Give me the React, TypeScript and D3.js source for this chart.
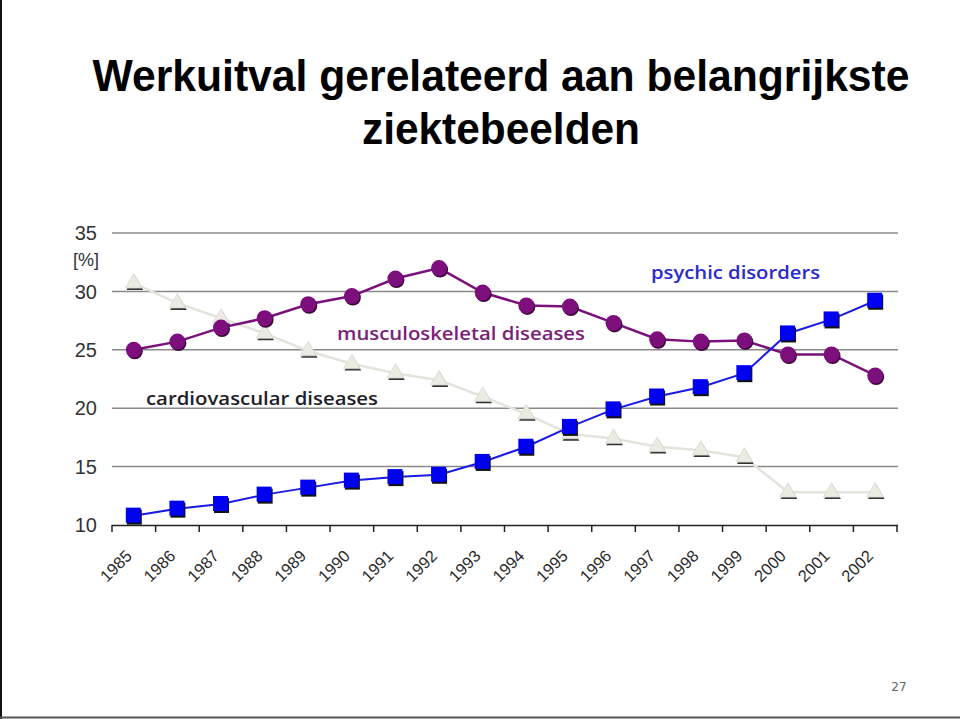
import React from "react";
import * as d3 from "d3";

const years = ["1985", "1986", "1987", "1988", "1989", "1990", "1991", "1992", "1993",
  "1994", "1995", "1996", "1997", "1998", "1999", "2000", "2001", "2002"];

const psychic = [10.8, 11.4, 11.8, 12.6, 13.2, 13.8, 14.1, 14.3, 15.4,
  16.7, 18.4, 19.9, 21.0, 21.8, 23.0, 26.4, 27.6, 29.2];
const musculo = [25.0, 25.7, 26.9, 27.7, 28.9, 29.6, 31.1, 32.0, 29.9,
  28.8, 28.7, 27.3, 25.9, 25.7, 25.8, 24.6, 24.6, 22.8];
const cardio = [30.7, 29.0, 27.7, 26.4, 24.9, 23.8, 23.0, 22.4, 21.0,
  19.5, 17.8, 17.4, 16.7, 16.4, 15.8, 12.8, 12.8, 12.8];

const yTicks = [10, 15, 20, 25, 30, 35];

const W = 960;
const H = 719;

const App = () => {
  const x = d3.scaleBand<string>().domain(years).range([112, 897]);
  const y = d3.scaleLinear().domain([10, 35]).range([525, 233]);
  const cx = (i: number) => (x(years[i]) as number) + x.bandwidth() / 2;

  const line = d3
    .line<number>()
    .x((_, i) => cx(i))
    .y((v) => y(v));

  const tri = d3.symbol().type(d3.symbolTriangle).size(120);

  return (
    <svg
      width={W}
      height={H}
      style={{ position: "absolute", left: 0, top: 0, background: "#fff" }}
    >
      {/* page frame */}
      <line x1={1} y1={0} x2={1} y2={H} stroke="#111" strokeWidth={2} />
      <line x1={0} y1={717.5} x2={W} y2={717.5} stroke="#555" strokeWidth={2} />

      {/* title */}
      <g fontFamily="Liberation Sans Narrow, Arial Narrow, Liberation Sans, sans-serif" fontWeight="bold" fontSize={45} fill="#000">
        <text x={501} y={91} textAnchor="middle" textLength={817} lengthAdjust="spacingAndGlyphs">
          Werkuitval gerelateerd aan belangrijkste
        </text>
        <text x={501} y={144} textAnchor="middle" textLength={278} lengthAdjust="spacingAndGlyphs">
          ziektebeelden
        </text>
      </g>

      {/* grid */}
      {yTicks.slice(1).map((t) => (
        <line key={t} x1={112} x2={898} y1={y(t)} y2={y(t)} stroke="#8a8a8a" strokeWidth={1.5} />
      ))}

      {/* y labels */}
      <g fontFamily="Liberation Sans, Arial, sans-serif" fontSize={20} fill="#333" textAnchor="end">
        {yTicks.map((t) => (
          <text key={t} x={97} y={y(t)} dy="0.36em">{t}</text>
        ))}
        <text x={99} y={260} dy="0.36em" fontSize={18}>[%]</text>
      </g>

      {/* x axis */}
      <line x1={112} x2={898} y1={525.5} y2={525.5} stroke="#222" strokeWidth={1.5} />
      {years.concat(["end"]).map((yr, i) => {
        const px = i < years.length ? (x(yr) as number) : 897;
        return <line key={yr} x1={px} x2={px} y1={525} y2={532} stroke="#222" strokeWidth={1.5} />;
      })}
      <g fontFamily="Liberation Sans, Arial, sans-serif" fontSize={16.5} fill="#2a2a2a" textAnchor="end">
        {years.map((yr, i) => (
          <text key={yr} transform={`translate(${cx(i) - 5},${553}) rotate(-45)`} dy="0.35em">
            {yr}
          </text>
        ))}
      </g>

      {/* cardiovascular */}
      <path d={line(cardio) || ""} fill="none" stroke="#e4e4dc" strokeWidth={2.5} />
      {cardio.map((v, i) => (
        <g key={i} transform={`translate(${cx(i)},${y(v)})`}>
          <path d={tri() || ""} transform="translate(1,2)" fill="#333" />
          <path d={tri() || ""} fill="#ebebe3" stroke="#d8d8d0" strokeWidth={0.8} />
        </g>
      ))}

      {/* musculoskeletal */}
      <path d={line(musculo) || ""} fill="none" stroke="#7a117a" strokeWidth={2.5} />
      {musculo.map((v, i) => (
        <g key={i}>
          <circle cx={cx(i) + 1} cy={y(v) + 1.5} r={8} fill="#3a073a" />
          <circle cx={cx(i)} cy={y(v)} r={8} fill="#7d0f7d" />
        </g>
      ))}

      {/* psychic */}
      <path d={line(psychic) || ""} fill="none" stroke="#1a1ae6" strokeWidth={2} />
      {psychic.map((v, i) => (
        <g key={i}>
          <rect x={cx(i) - 7} y={y(v) - 6} width={15} height={15} fill="#111" />
          <rect x={cx(i) - 8} y={y(v) - 8} width={15} height={15} fill="#0000f0" />
        </g>
      ))}

      {/* series labels */}
      <g fontFamily="Open Sans, DejaVu Sans, sans-serif" fontWeight={600} fontSize={18}>
        <text x={651} y={279} fill="#2a2ad0" textLength={169} lengthAdjust="spacingAndGlyphs">
          psychic disorders
        </text>
        <text x={337} y={340} fill="#7a1f7a" textLength={248} lengthAdjust="spacingAndGlyphs">
          musculoskeletal diseases
        </text>
        <text x={146} y={405} fill="#1e1e2a" textLength={232} lengthAdjust="spacingAndGlyphs">
          cardiovascular diseases
        </text>
      </g>

      {/* page number */}
      <text x={899} y={691} textAnchor="middle" fontFamily="DejaVu Sans, sans-serif" fontSize={12} fill="#666">
        27
      </text>
    </svg>
  );
};

export default App;
